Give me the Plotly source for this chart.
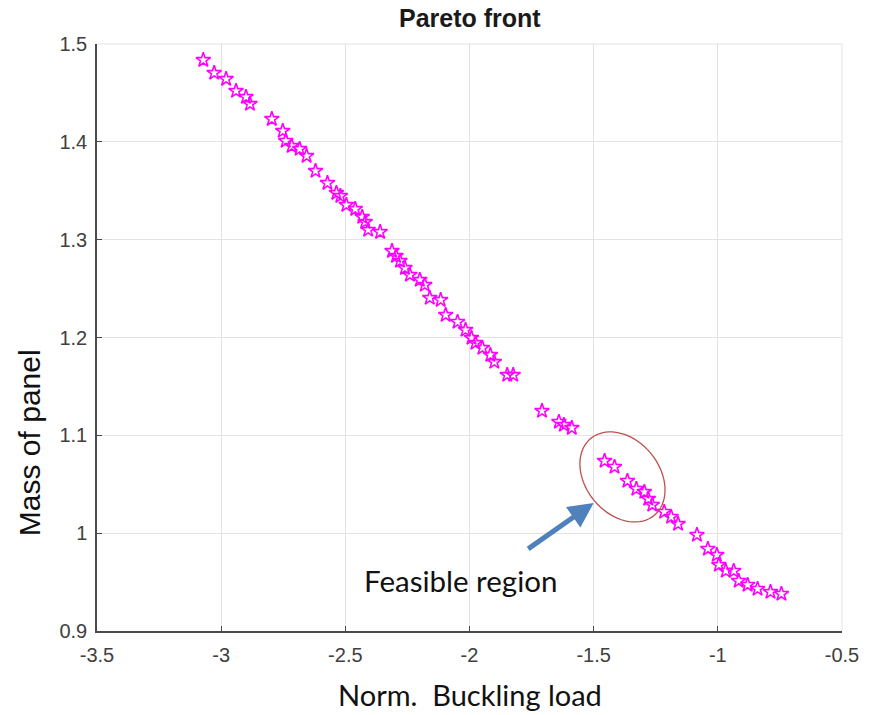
import math
import plotly.graph_objects as go

# Pareto front: normalised buckling load vs. panel mass
buckling_load = [
    -3.072, -3.028, -2.980, -2.940, -2.900, -2.884, -2.796, -2.752, -2.740, -2.716,
    -2.684, -2.656, -2.620, -2.572, -2.536, -2.520, -2.496, -2.460, -2.432, -2.420,
    -2.408, -2.360, -2.312, -2.296, -2.280, -2.260, -2.240, -2.200, -2.180, -2.160,
    -2.116, -2.096, -2.048, -2.016, -1.992, -1.976, -1.948, -1.916, -1.900, -1.848,
    -1.824, -1.708, -1.640, -1.588, -1.620, -1.456, -1.416, -1.364, -1.328, -1.296,
    -1.280, -1.264, -1.216, -1.188, -1.160, -1.084, -1.040, -1.004, -0.996, -0.968,
    -0.936, -0.916, -0.880, -0.840, -0.788, -0.744,
]
panel_mass = [
    1.4836, 1.4704, 1.4642, 1.4520, 1.4458, 1.4387, 1.4233, 1.4111, 1.4009, 1.3957,
    1.3927, 1.3855, 1.3702, 1.3579, 1.3477, 1.3446, 1.3354, 1.3313, 1.3232, 1.3181,
    1.3099, 1.3078, 1.2884, 1.2833, 1.2782, 1.2710, 1.2639, 1.2588, 1.2537, 1.2404,
    1.2383, 1.2230, 1.2159, 1.2077, 1.1995, 1.1944, 1.1893, 1.1821, 1.1750, 1.1617,
    1.1617, 1.1249, 1.1137, 1.1075, 1.1106, 1.0738, 1.0677, 1.0534, 1.0452, 1.0421,
    1.0350, 1.0289, 1.0217, 1.0166, 1.0094, 0.9982, 0.9839, 0.9777, 0.9675, 0.9614,
    0.9614, 0.9512, 0.9471, 0.9430, 0.9399, 0.9379,
]

x_ticks = [-3.5, -3, -2.5, -2, -1.5, -1, -0.5]
x_tick_labels = ["-3.5", "-3", "-2.5", "-2", "-1.5", "-1", "-0.5"]
y_ticks = [0.9, 1.0, 1.1, 1.2, 1.3, 1.4, 1.5]
y_tick_labels = ["0.9", "1", "1.1", "1.2", "1.3", "1.4", "1.5"]

X_RANGE = [-3.5, -0.5]
Y_RANGE = [0.9, 1.5]

W, H = 871, 715
M = dict(l=97, r=24, t=44, b=84)
plot_w = W - M["l"] - M["r"]
plot_h = H - M["t"] - M["b"]
px_per_x = plot_w / (X_RANGE[1] - X_RANGE[0])
px_per_y = plot_h / (Y_RANGE[1] - Y_RANGE[0])

# highlighted region: tilted ellipse around the feasible designs
ell_cx, ell_cy = -1.384, 1.0575
ell_a, ell_b, ell_tilt = 50, 37, math.radians(50)  # semi-axes in px, tilt (screen, clockwise)
pts = []
for i in range(73):
    t = 2 * math.pi * i / 72
    dx = ell_a * math.cos(t) * math.cos(ell_tilt) - ell_b * math.sin(t) * math.sin(ell_tilt)
    dy = ell_a * math.cos(t) * math.sin(ell_tilt) + ell_b * math.sin(t) * math.cos(ell_tilt)
    pts.append((ell_cx + dx / px_per_x, ell_cy - dy / px_per_y))
ell_path = "M " + " L ".join(f"{x:.5f},{y:.5f}" for x, y in pts) + " Z"

tick_font = dict(family="Liberation Sans, Arial, sans-serif", size=20, color="#404040")
grid_col = "#e3e3e3"
axis_col = "#4a4a4a"

fig = go.Figure()
fig.add_trace(go.Scatter(
    x=buckling_load, y=panel_mass, mode="markers",
    marker=dict(symbol="star-open", size=11, color="#ff00ff",
                line=dict(color="#ff00ff", width=1.6)),
    showlegend=False, hoverinfo="skip",
))

fig.update_layout(
    width=W, height=H, margin=M,
    paper_bgcolor="white", plot_bgcolor="white",
    xaxis=dict(range=X_RANGE, tickvals=x_ticks, ticktext=x_tick_labels,
               showgrid=True, gridcolor=grid_col, gridwidth=1,
               showline=True, linecolor=axis_col, linewidth=1.5,
               ticks="inside", ticklen=5, tickcolor=axis_col, tickwidth=1,
               tickfont=tick_font, ticklabelstandoff=5, zeroline=False),
    yaxis=dict(range=Y_RANGE, tickvals=y_ticks, ticktext=y_tick_labels,
               showgrid=True, gridcolor=grid_col, gridwidth=1,
               showline=True, linecolor=axis_col, linewidth=1.5,
               ticks="inside", ticklen=5, tickcolor=axis_col, tickwidth=1,
               tickfont=tick_font, ticklabelstandoff=4, zeroline=False),
    shapes=[
        dict(type="line", xref="paper", yref="paper", x0=0, x1=1, y0=1, y1=1,
             line=dict(color=grid_col, width=1), layer="below"),
        dict(type="line", xref="paper", yref="paper", x0=1, x1=1, y0=0, y1=1,
             line=dict(color=grid_col, width=1), layer="below"),
        dict(type="path", xref="x", yref="y", path=ell_path,
             line=dict(color="#c0504d", width=1.3)),
    ],
    annotations=[
        dict(text="<b>Pareto front</b>", xref="paper", yref="paper", x=0.5, y=1,
             yanchor="middle", yshift=26, showarrow=False,
             font=dict(family="Liberation Sans, Arial, sans-serif", size=25, color="#1a1a1a")),
        dict(text="Norm.  Buckling load", xref="paper", yref="paper", x=0.5, y=0,
             yanchor="middle", yshift=-63, showarrow=False,
             font=dict(family="Lato, sans-serif", size=29, color="#111111")),
        dict(text="Mass of panel", xref="paper", yref="y", x=0, y=1.092,
             xanchor="center", yanchor="middle", xshift=-68, textangle=-90, showarrow=False,
             font=dict(family="Liberation Sans, Arial, sans-serif", size=30, color="#111111")),
        dict(text="Feasible region", xref="x", yref="y", x=-2.036, y=0.952,
             showarrow=False,
             font=dict(family="Lato, sans-serif", size=29.5, color="#111111")),
        dict(text="", xref="x", yref="y", x=-1.5, y=1.0309, ax=-67, ay=47,
             showarrow=True, arrowhead=2, arrowsize=1.0, arrowwidth=5,
             arrowcolor="#4f81bd", standoff=0),
    ],
)

fig.write_html("out.html")
